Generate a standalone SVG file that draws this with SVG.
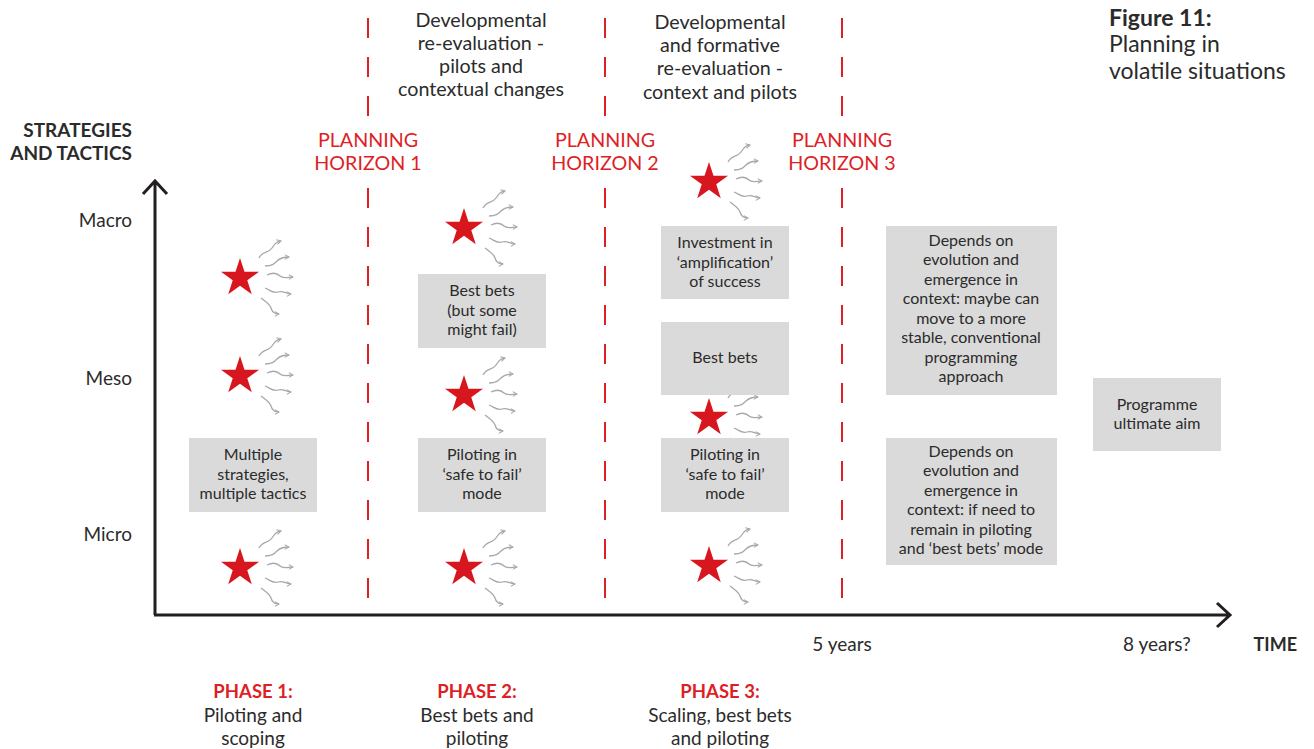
<svg xmlns="http://www.w3.org/2000/svg" xmlns:xlink="http://www.w3.org/1999/xlink" width="1314" height="749" viewBox="0 0 1314 749">
<style>
text{font-family:Lato,"Open Sans","Liberation Sans",sans-serif;fill:#2b2b2b}
.t18{font-size:19.7px}
.t17{font-size:19px}
.t15{font-size:16px;text-anchor:middle}
.mid{text-anchor:middle}
.end{text-anchor:end}
.red{fill:#dd1f26}
.b{font-weight:bold}
.box{fill:#dadada}
.dash{stroke:#dd1f26;stroke-width:2;stroke-dasharray:20 19;fill:none}
.axis{stroke:#231f20;stroke-width:3;fill:none}
.wave{stroke:#a8a8a8;stroke-width:1.3;fill:none;marker-end:url(#ah)}
</style>
<defs>
<marker id="ah" viewBox="0 0 10 10" refX="8" refY="5" markerWidth="6" markerHeight="6" markerUnits="userSpaceOnUse" orient="auto">
<path d="M1,1 L8,5 L1,9" fill="none" stroke="#a8a8a8" stroke-width="1.8"/>
</marker>
<g id="burst">
<path class="wave" d="M19,-20 C23,-28 28,-24 32,-30 S37,-36 41,-37"/>
<path class="wave" d="M25,-12 C32,-12 34,-14 37,-17 S44,-21 49,-21"/>
<path class="wave" d="M27,-3 C33,-6 37,-5 40,-2 S48,-1 53,-1"/>
<path class="wave" d="M25,10 C30,12 33,16 38,14 S46,16 51,16"/>
<path class="wave" d="M21,20 C26,24 30,26 31,30 S35,36 39,36"/>
<polygon fill="#d7161e" points="0,-20 4.49,-6.18 19.02,-6.18 7.27,2.36 11.76,16.18 0,7.64 -11.76,16.18 -7.27,2.36 -19.02,-6.18 -4.49,-6.18"/>
</g>
</defs>

<g id="connectors">
<line class="dash" x1="368" y1="18" x2="368" y2="116"/>
<line class="dash" x1="368" y1="188" x2="368" y2="600"/>
<line class="dash" x1="605" y1="18" x2="605" y2="116"/>
<line class="dash" x1="605" y1="188" x2="605" y2="600"/>
<line class="dash" x1="842" y1="18" x2="842" y2="116"/>
<line class="dash" x1="842" y1="188" x2="842" y2="600"/>
<path class="axis" d="M155,615 L155,182 M143,194 L155,181 L167,194"/>
<path class="axis" d="M154,615 L1230,615 M1217,603 L1230,615 L1217,627"/>
</g>

<g id="stars">
<use xlink:href="#burst" x="240" y="278"/>
<use xlink:href="#burst" x="240" y="376"/>
<use xlink:href="#burst" x="240" y="568"/>
<use xlink:href="#burst" x="464" y="228"/>
<use xlink:href="#burst" x="464" y="395"/>
<use xlink:href="#burst" x="464" y="568"/>
<use xlink:href="#burst" x="709" y="182"/>
<use xlink:href="#burst" x="709" y="418"/>
<use xlink:href="#burst" x="709" y="566"/>
</g>

<g id="title">
<text x="1109" y="26" style="font-size:23px" class="b">Figure 11:</text>
<text x="1109" y="52" style="font-size:23px">Planning in</text>
<text x="1109" y="79" style="font-size:23px">volatile situations</text>
</g>

<g id="yaxis-labels">
<text x="132" y="137" class="t17 end b">STRATEGIES</text>
<text x="132" y="160" class="t17 end b">AND TACTICS</text>
<text x="132" y="227" class="t17 end">Macro</text>
<text x="132" y="385" class="t17 end">Meso</text>
<text x="132" y="541" class="t17 end">Micro</text>
</g>

<g id="horizons">
<text x="368" y="147" class="t18 mid red">PLANNING</text>
<text x="368" y="170" class="t18 mid red">HORIZON 1</text>
<text x="605" y="147" class="t18 mid red">PLANNING</text>
<text x="605" y="170" class="t18 mid red">HORIZON 2</text>
<text x="842" y="147" class="t18 mid red">PLANNING</text>
<text x="842" y="170" class="t18 mid red">HORIZON 3</text>
</g>

<g id="reeval1">
<text x="481" y="27" class="t18 mid">Developmental</text>
<text x="481" y="50" class="t18 mid">re-evaluation -</text>
<text x="481" y="73" class="t18 mid">pilots and</text>
<text x="481" y="96" class="t18 mid">contextual changes</text>
</g>
<g id="reeval2">
<text x="720" y="29" class="t18 mid">Developmental</text>
<text x="720" y="52" class="t18 mid">and formative</text>
<text x="720" y="75" class="t18 mid">re-evaluation -</text>
<text x="720" y="99" class="t18 mid">context and pilots</text>
</g>

<g id="box-p1">
<rect class="box" x="189" y="438" width="128" height="74"/>
<text x="253" y="460" class="t15">Multiple</text>
<text x="253" y="480" class="t15">strategies,</text>
<text x="253" y="499" class="t15">multiple tactics</text>
</g>
<g id="box-p2-best">
<rect class="box" x="418" y="274" width="128" height="74"/>
<text x="482" y="296" class="t15">Best bets</text>
<text x="482" y="316" class="t15">(but some</text>
<text x="482" y="335" class="t15">might fail)</text>
</g>
<g id="box-p2-pilot">
<rect class="box" x="418" y="438" width="128" height="74"/>
<text x="482" y="460" class="t15">Piloting in</text>
<text x="482" y="480" class="t15">‘safe to fail’</text>
<text x="482" y="499" class="t15">mode</text>
</g>
<g id="box-p3-invest">
<rect class="box" x="661" y="226" width="128" height="73"/>
<text x="725" y="248" class="t15">Investment in</text>
<text x="725" y="268" class="t15">‘amplification’</text>
<text x="725" y="287" class="t15">of success</text>
</g>
<g id="box-p3-best">
<rect class="box" x="661" y="322" width="128" height="73"/>
<text x="725" y="363" class="t15">Best bets</text>
</g>
<g id="box-p3-pilot">
<rect class="box" x="661" y="438" width="128" height="74"/>
<text x="725" y="460" class="t15">Piloting in</text>
<text x="725" y="480" class="t15">‘safe to fail’</text>
<text x="725" y="499" class="t15">mode</text>
</g>
<g id="box-later-top">
<rect class="box" x="886" y="226" width="171" height="169"/>
<text x="971" y="246" class="t15">Depends on</text>
<text x="971" y="265" class="t15">evolution and</text>
<text x="971" y="285" class="t15">emergence in</text>
<text x="971" y="304" class="t15">context: maybe can</text>
<text x="971" y="324" class="t15">move to a more</text>
<text x="971" y="343" class="t15">stable, conventional</text>
<text x="971" y="363" class="t15">programming</text>
<text x="971" y="382" class="t15">approach</text>
</g>
<g id="box-later-bottom">
<rect class="box" x="886" y="438" width="171" height="127"/>
<text x="971" y="457" class="t15">Depends on</text>
<text x="971" y="476" class="t15">evolution and</text>
<text x="971" y="496" class="t15">emergence in</text>
<text x="971" y="515" class="t15">context: if need to</text>
<text x="971" y="535" class="t15">remain in piloting</text>
<text x="971" y="554" class="t15">and ‘best bets’ mode</text>
</g>
<g id="box-aim">
<rect class="box" x="1093" y="378" width="128" height="73"/>
<text x="1157" y="410" class="t15">Programme</text>
<text x="1157" y="429" class="t15">ultimate aim</text>
</g>

<g id="xaxis-labels">
<text x="842" y="651" class="t17 mid">5 years</text>
<text x="1157" y="651" class="t17 mid">8 years?</text>
<text x="1297" y="651" class="t17 end b" style="font-size:18px">TIME</text>
</g>

<g id="phases">
<text x="253" y="698" class="t17 mid red b" style="font-size:18.5px">PHASE 1:</text>
<text x="253" y="722" class="t17 mid">Piloting and</text>
<text x="253" y="745" class="t17 mid">scoping</text>
<text x="477" y="698" class="t17 mid red b" style="font-size:18.5px">PHASE 2:</text>
<text x="477" y="722" class="t17 mid">Best bets and</text>
<text x="477" y="745" class="t17 mid">piloting</text>
<text x="720" y="698" class="t17 mid red b" style="font-size:18.5px">PHASE 3:</text>
<text x="720" y="722" class="t17 mid">Scaling, best bets</text>
<text x="720" y="745" class="t17 mid">and piloting</text>
</g>
</svg>
